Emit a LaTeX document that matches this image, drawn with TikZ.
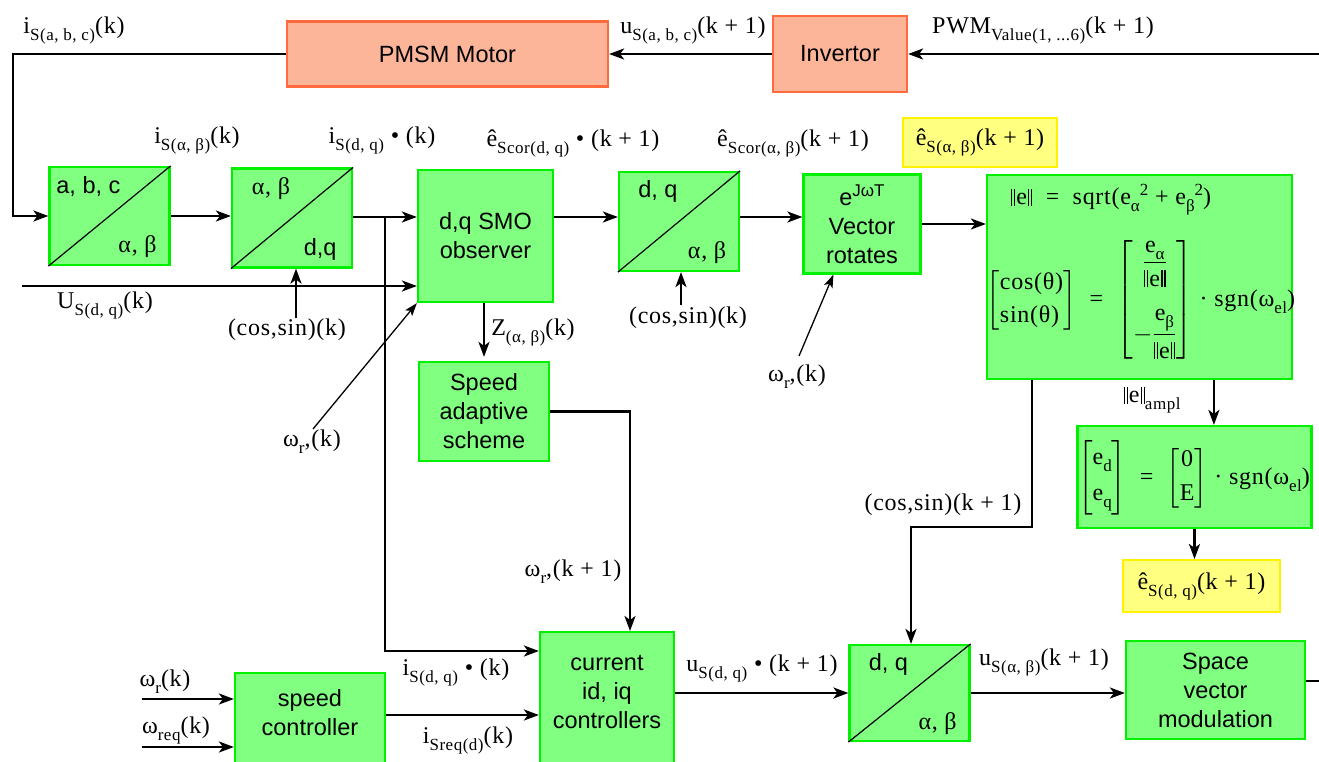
\documentclass[tikz,border=0pt]{standalone}
\usepackage{amsmath}
\usepackage{fontspec}
\setmainfont{Liberation Serif}[LetterSpace=3]
\newfontfamily\blkfont{Liberation Sans}
\usepackage{tikz}
\usetikzlibrary{positioning,arrows.meta,calc}

\definecolor{blkfill}{HTML}{80FF80}
\definecolor{blkline}{HTML}{00F000}
\definecolor{hwfill}{HTML}{FDB59A}
\definecolor{hwline}{HTML}{FF6B3D}
\definecolor{notefill}{HTML}{FFFF80}
\definecolor{noteline}{HTML}{FFF200}

\newcommand\sff{\blkfont\fontsize{23.5}{29}\selectfont}
\newcommand\serf{\rmfamily\fontsize{24}{28}\selectfont}
\newcommand\lowsub[1]{\raisebox{-7pt}{\fontsize{17}{17}\selectfont #1}}
\newcommand\upsup[1]{\raisebox{9pt}{\fontsize{17}{17}\selectfont #1}}
\newcommand\dbar{\rule[-1pt]{1.4pt}{17pt}\kern1.6pt\rule[-1pt]{1.4pt}{17pt}}
\newcommand\nrm{\dbar\kern1pt e\kern1pt\dbar}

\begin{document}
\begin{tikzpicture}[x=1pt, y=-1pt, >={Stealth[length=15pt,width=11pt,inset=4pt]},
  blk/.style={draw=blkline, fill=blkfill, line width=2.2pt, inner sep=0pt, align=center, font=\sff},
  hw/.style={draw=hwline, fill=hwfill, line width=2.2pt, font=\sff},
  note/.style={draw=noteline, fill=notefill, line width=2pt, inner sep=0pt, font=\serf},
  lb/.style={inner sep=0pt, font=\serf},
  m/.style={->, line width=2.4pt},
  thn/.style={-{Stealth[length=13pt,width=9pt,inset=3pt]}, line width=1.3pt}]
\useasboundingbox (0,0) rectangle (1319,762);
\clip (0,0) rectangle (1319,762);
% motor and invertor
\node[hw, minimum width=321, minimum height=65] (motor) at (447.5,54) {PMSM Motor};
\node[hw, minimum width=134, minimum height=76] (inv) at (840,54) {Invertor};
% coordinate transforms
\foreach \n/\x/\y/\h/\lu/\rl in {abc/109.5/216/98/{a, b, c}/{\serf α, β}, ab2dq/292/218/99/{\serf α, β}/{d,q},
  dq2ab/679/221.5/99/{d, q}/{\serf α, β}, dqab3/909.5/693/96/{d, q}/{\serf α, β}} {
  \node[blk, minimum width=120, minimum height=\h] (\n) at (\x,\y) {};
  \draw[line width=1.2pt] (\n.south west) -- (\n.north east);
  \node[inner sep=0pt, font=\sff] (\n-lu) at ($(\n.north west)+(40,21)$) {\lu};
  \node[inner sep=0pt, font=\sff] (\n-rl) at ($(\n.south east)+(-33,-19)$) {\rl};
}
% plain blocks
\foreach \n/\x/\y/\w/\h/\txt in {smo/485.5/236/135/132/{d,q SMO\\observer},
  rot/862/224/117/99/{e\upsup{JωT}\\Vector\\rotates},
  adapt/484/411.5/130/99/{Speed\\adaptive\\scheme},
  svm/1215.5/690/179/98/{Space\\vector\\modulation}}
  \node[blk, minimum width=\w, minimum height=\h] (\n) at (\x,\y) {\txt};
% blocks cut by the lower edge
\node[blk, minimum width=150, minimum height=130, anchor=north] (spd) at (310,672) {};
\node[inner sep=0pt, align=center, font=\sff] (spd-t) at (310,713) {speed\\controller};
\node[blk, minimum width=134, minimum height=170, anchor=north] (cur) at (607,631) {};
\node[inner sep=0pt, align=center, font=\sff] (cur-t) at (607,692) {current\\id, iq\\controllers};
% formula blocks
\node[blk, minimum width=305, minimum height=204] (norm) at (1139.5,277) {};
\node[lb] (norm-a) at (1111,200) {\nrm\ \ =\ \ sqrt(e\lowsub{α}\upsup{2} + e\lowsub{β}\upsup{2})};
\node[lb] (norm-b) at (1141,300) {$\left[\begin{tabular}{@{}l@{}}cos(θ)\\[5pt]sin(θ)\end{tabular}\right]$ \ = \ $\left[\begin{tabular}{@{}c@{}}$\dfrac{\text{e\lowsub{α}}}{\text{\nrm}}$\\\rule{0pt}{54pt}$-\dfrac{\text{e\lowsub{β}}}{\text{\nrm}}$\end{tabular}\right]$ · sgn(ω\lowsub{el})};
\node[blk, minimum width=234, minimum height=102] (edq) at (1194.5,477) {};
\node[lb] (edq-f) at (1194,478) {$\left[\begin{tabular}{@{}l@{}}e\lowsub{d}\\[8pt]e\lowsub{q}\end{tabular}\right]$ \ = \ $\left[\begin{tabular}{@{}c@{}}0\\[6pt]E\end{tabular}\right]$ · sgn(ω\lowsub{el})};
% highlighted results
\node[note, minimum width=154, minimum height=49] (eab) at (980,142.5) {ê\lowsub{S(α, β)}(k + 1)};
\node[note, minimum width=157, minimum height=52] (edqn) at (1201.5,586) {ê\lowsub{S(d, q)}(k + 1)};
% signal labels
\foreach \n/\x/\y/\txt in {iabcl/74/30/{i\lowsub{S(a, b, c)}(k)}, uabcl/693/30/{u\lowsub{S(a, b, c)}(k + 1)},
  pwml/1043/30/{PWM\lowsub{Value(1, ...6)}(k + 1)}, iabl/197/140/{i\lowsub{S(α, β)}(k)},
  idql/382/140/{i\lowsub{S(d, q)} • (k)}, ecdql/573/143/{ê\lowsub{Scor(d, q)} • (k + 1)},
  ecabl/793/143/{ê\lowsub{Scor(α, β)}(k + 1)}, usdql/105/305/{U\lowsub{S(d, q)}(k)},
  cs1l/287/330/{(cos,sin)(k)}, w1l/312/442/{ω\lowsub{r},(k)}, zabl/533/332/{Z\lowsub{(α, β)}(k)},
  cs2l/688/318/{(cos,sin)(k)}, w2l/797/377/{ω\lowsub{r},(k)}, cs3l/943/505/{(cos,sin)(k + 1)},
  wr1l/573/572/{ω\lowsub{r},(k + 1)}, ampl/1152/400/{\nrm\lowsub{ampl}},
  wrl/165/682/{ω\lowsub{r}(k)}, wreql/176/730/{ω\lowsub{req}(k)},
  idq2l/456/672/{i\lowsub{S(d, q)} • (k)}, isreql/468/740/{i\lowsub{Sreq(d)}(k)},
  udql/762/668/{u\lowsub{S(d, q)} • (k + 1)}, uabl/1044/662/{u\lowsub{S(α, β)}(k + 1)}}
  \node[lb] (\n) at (\x,\y) {\txt};
% free ends
\coordinate (pwmin) at (1319,54);
\coordinate (fb) at (13,216);
\coordinate (r1) at (0,217);
\coordinate (r4) at (0,715);
\coordinate (uin) at (22,286);
\coordinate (br) at (385,217);
\coordinate (cs1in) at (296,318);
\coordinate (w1in) at (313,429);
\coordinate (cs2in) at (681,305);
\coordinate (w2in) at (799,356);
\coordinate (jog) at (911,527);
\coordinate (wrin) at (142,699);
\coordinate (wreqin) at (142,747);
\coordinate (svmout) at (1319,681);
\path (norm.south west) ++(46,0) coordinate (csout) ++(182,0) coordinate (ampout);
% connections
\draw[m] (pwmin) -- (inv);
\draw[m] (inv) -- (motor);
\draw[m] (motor.west) -| (fb) -- (abc.west);
\draw[m] (abc.east) -- (ab2dq.west |- abc.east);
\draw[m] (ab2dq.east |- r1) -- (smo.west |- r1);
\draw[m] (br) |- ($(cur.north west)+(0,20)$);
\draw[m] (uin) -- (smo.west |- uin);
\draw[m] (cs1in) -- (cs1in |- ab2dq.south);
\draw[thn] (w1in) -- (smo.south west);
\draw[m, shorten >=4pt] (adapt.north |- smo.south) -- (adapt.north);
\draw[m] (adapt.east) -| ($(cur.north)+(23,0)$);
\draw[m] (smo.east |- r1) -- (dq2ab.west |- r1);
\draw[m] (dq2ab.east |- r1) -- (rot.west |- r1);
\draw[m] (cs2in) -- (cs2in |- dq2ab.south);
\draw[thn] (w2in) -- ($(rot.south west)+(31,0)$);
\draw[m] (rot.east) -- (norm.west |- rot.east);
\draw[m] (csout) |- (jog) -- (jog |- dqab3.north);
\draw[m] (ampout) -- (ampout |- edq.north);
\draw[m] (edq.south) -- (edq.south |- edqn.north);
\draw[m] (wrin) -- (spd.west |- wrin);
\draw[m] (wreqin) -- (spd.west |- wreqin);
\draw[m] (spd.east |- r4) -- (cur.west |- r4);
\draw[m] (cur.east |- dqab3.west) -- (dqab3.west);
\draw[m] (dqab3.east) -- (svm.west |- dqab3.east);
\draw[line width=2.4pt] (svm.east |- svmout) -- (svmout);
\end{tikzpicture}
\end{document}
